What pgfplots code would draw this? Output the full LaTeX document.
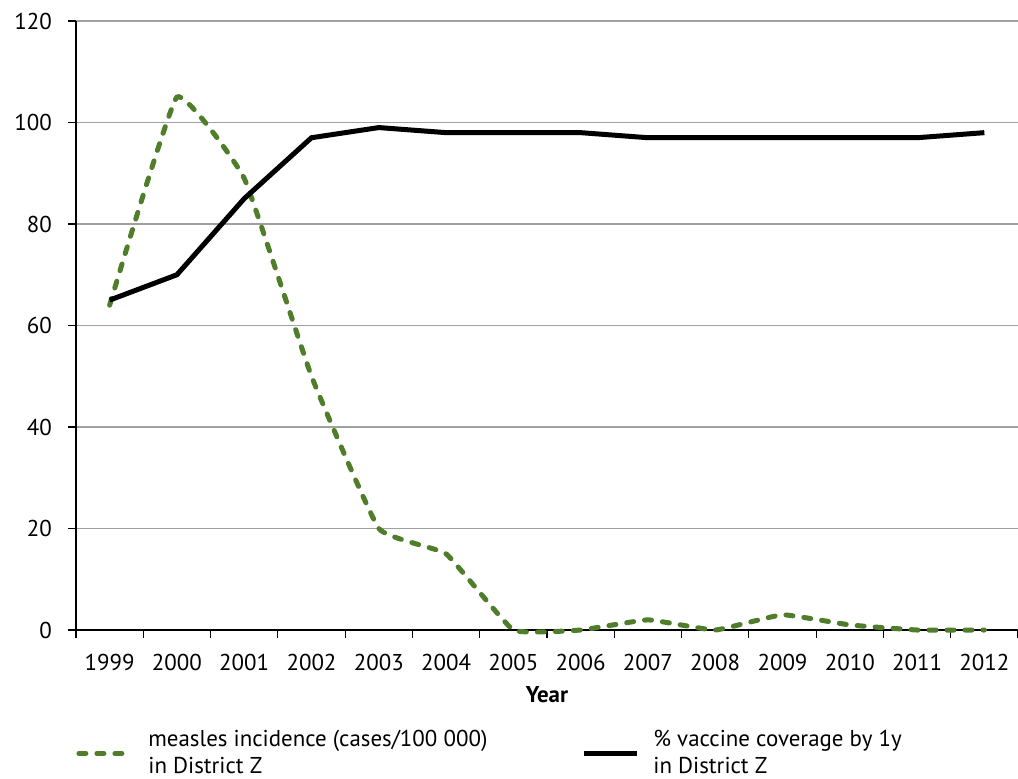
\documentclass[border=0pt]{standalone}
\usepackage{pgfplots}
\pgfplotsset{compat=1.18}
\usepackage{fontspec}
\setmainfont{PT Sans}
\definecolor{measles}{RGB}{79,125,42}
\definecolor{gridgrey}{RGB}{160,160,160}
\begin{document}
\fontsize{11.5}{13.5}\selectfont
\begin{tikzpicture}
\begin{axis}[
  name=ax,
  scale only axis,
  width=471bp, height=304.5bp,
  xmin=-0.5, xmax=13.5,
  ymin=0, ymax=120,
  axis x line*=bottom, axis y line*=left,
  axis line style={line width=1.1bp, -},
  xtick={0,...,13},
  xticklabels={1999,2000,2001,2002,2003,2004,2005,2006,2007,2008,2009,2010,2011,2012},
  minor xtick={-0.5,0.5,...,13.5},
  major x tick style={draw=none},
  minor tick length=4bp,
  major tick length=4bp,
  tick align=outside,
  tick style={black, line width=0.6bp},
  ytick={0,20,...,120},
  ymajorgrids,
  grid style={gridgrey, line width=0.6bp},
  /pgf/number format/assume math mode=true,
  tick label style={font=\fontsize{11.5}{13.5}\selectfont},
  xticklabel style={yshift=-4bp},
  yticklabel style={xshift=-4bp},
  xlabel={\textbf{Year}},
  xlabel style={font=\fontsize{11.5}{13.5}\selectfont, yshift=0bp},
  clip=false,
  legend columns=2,
  legend style={draw=none, at={(0,-1.32cm)}, anchor=north west, yshift=-10.5bp,
    font=\fontsize{11.5}{13.5}\selectfont, cells={align=left, anchor=west},
    /tikz/every even column/.append style={column sep=45bp},
    /tikz/every odd column/.append style={column sep=5bp},
    inner sep=0pt, row sep=0pt},
  legend image code/.code={\draw[#1] (0bp,0bp) -- (26.5bp,0bp);},
]
\addplot[measles, line width=2.5bp, line cap=round, dash pattern=on 3.5bp off 5.5bp, smooth, tension=0.2]
  coordinates {(0,64) (1,105) (2,89) (3,50) (4,20) (5,15) (6,0) (7,0) (8,2) (9,0) (10,3) (11,1) (12,0) (13,0)};
\addlegendentry{measles incidence (cases/100 000)\\in District Z}
\addplot[black, line width=2.5bp]
  coordinates {(0,65) (1,70) (2,85) (3,97) (4,99) (5,98) (6,98) (7,98) (8,97) (9,97) (10,97) (11,97) (12,97) (13,98)};
\addlegendentry{\% vaccine coverage by 1y\\in District Z}
\end{axis}
\pgfresetboundingbox
\path ([xshift=-38bp,yshift=-74.5bp]ax.south west) rectangle ([yshift=10.5bp]ax.north east);
\end{tikzpicture}
\end{document}
